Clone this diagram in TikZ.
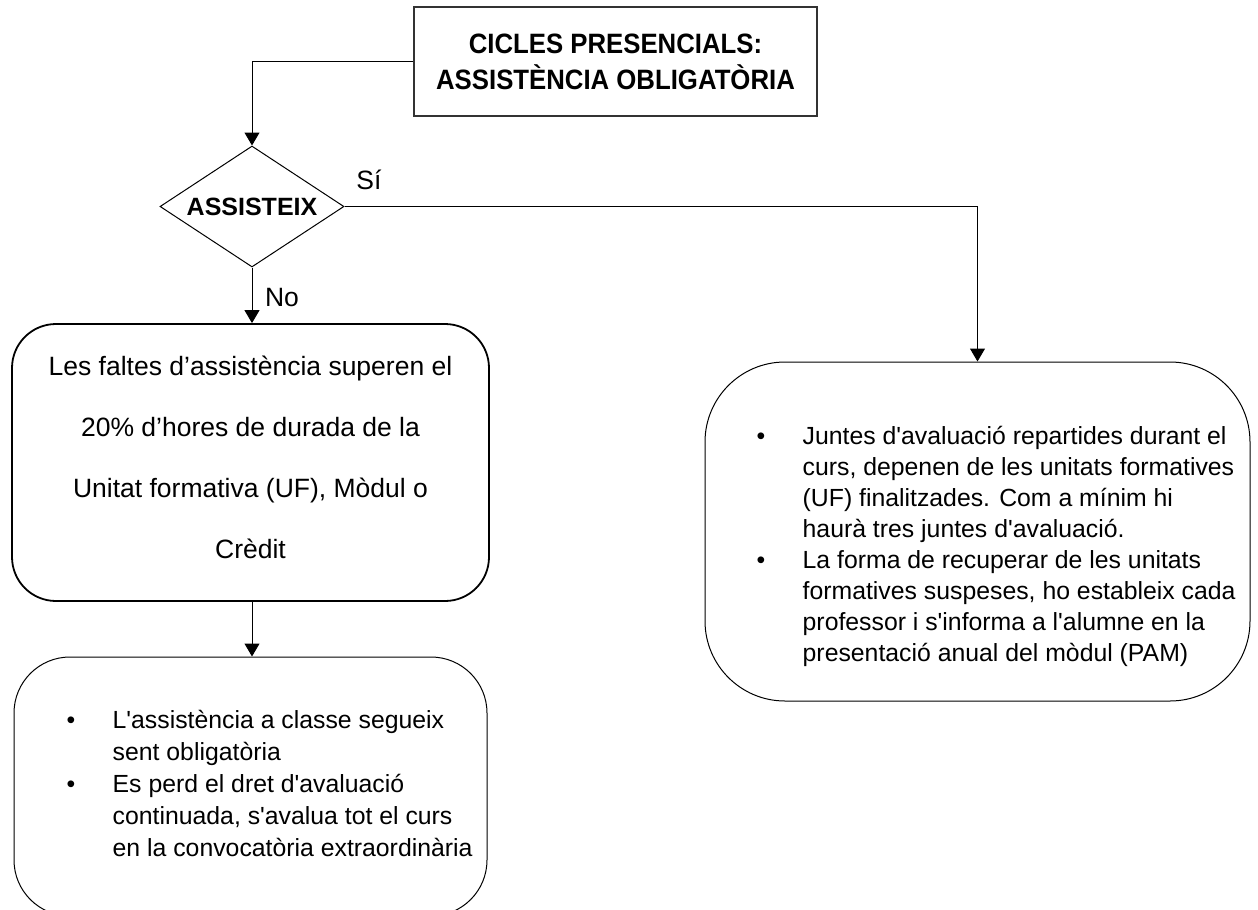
\documentclass[tikz,border=0pt]{standalone}
\usepackage{fontspec}
\setmainfont{Liberation Sans}
\def\amplada{1258}
\def\alcada{910}
\usetikzlibrary{arrows.meta,shapes.geometric,calc}
\newcommand{\ap}{\textquotesingle}

\begin{document}
\begin{tikzpicture}[x=1pt, y=-1pt,
  caixa/.style={draw, line width=1pt, rounded corners=#1, inner sep=0pt},
  llista/.style={anchor=west, inner sep=0pt, font=\fontsize{24.8}{#1}\selectfont},
  fletxa/.style={draw, line width=1pt, -{Triangle[width=15pt,length=13pt]}},
  etiqueta/.style={font=\fontsize{26.5}{31.5}\selectfont, inner sep=0pt}]
\useasboundingbox (0,0) rectangle (\amplada,\alcada);
\fill[white] (0,0) rectangle (\amplada,\alcada);

% capsa de dalt i pregunta
\node[draw, line width=1.3pt, black!80, text=black, minimum width=403pt, minimum height=109pt, align=center,
  font=\bfseries\fontsize{28}{36}\selectfont\addfontfeature{FakeStretch=0.92}] (titol) at (615.5,61.5) {CICLES PRESENCIALS:\\ASSISTÈNCIA OBLIGATÒRIA};
\node[draw, diamond, aspect=1.52, line width=1pt, minimum width=184pt, minimum height=121pt, inner sep=0pt,
  font=\bfseries\fontsize{25}{30}\selectfont] (assisteix) at (252,206.5) {ASSISTEIX};

% caixes
\node[caixa=44pt, line width=1.8pt, minimum width=477pt, minimum height=277pt] (faltes) at (250.5,462.5) {};
\node[caixa=56pt, minimum width=473pt, minimum height=259pt] (perd) at (250.5,786.5) {};
\node[caixa=80pt, minimum width=545pt, minimum height=339pt] (juntes) at (977.5,531.5) {};

% textos
\node[etiqueta, align=center, font=\fontsize{26.5}{61}\selectfont] (faltestext) at (250.5,457) {Les faltes d’assistència superen el\\20\% d’hores de durada de la\\Unitat formativa (UF), Mòdul o\\Crèdit};
\node[llista=32] (perdtext) at ($(perd.west)+(53,0)$) {%
  \begin{tabular}{@{}p{46pt}@{}l@{}}
  • & L\ap assistència a classe segueix\\
    & sent obligatòria\\
  • & Es perd el dret d\ap avaluació\\
    & continuada, s\ap avalua tot el curs\\
    & en la convocatòria extraordinària
  \end{tabular}};
\node[llista=31] (juntestext) at ($(juntes.west)+(52,15)$) {%
  \begin{tabular}{@{}p{46pt}@{}l@{}}
  • & Juntes d\ap avaluació repartides durant el\\
    & curs, depenen de les unitats formatives\\
    & (UF) finalitzades. Com a mínim hi\\
    & haurà tres juntes d\ap avaluació.\\
  • & La forma de recuperar de les unitats\\
    & formatives suspeses, ho estableix cada\\
    & professor i s\ap informa a l\ap alumne en la\\
    & presentació anual del mòdul (PAM)
  \end{tabular}};

% connexions
\draw[fletxa] (titol.west) -| (assisteix.north);
\draw[fletxa] (assisteix.east) -| (juntes.north);
\draw[fletxa] (assisteix.south) -- (assisteix.south |- faltes.north);
\draw[fletxa] (assisteix.south |- faltes.south) -- (assisteix.south |- perd.north);
\node[etiqueta] (si) at (369,180) {Sí};
\node[etiqueta] (no) at (282,298) {No};
\end{tikzpicture}
\end{document}
